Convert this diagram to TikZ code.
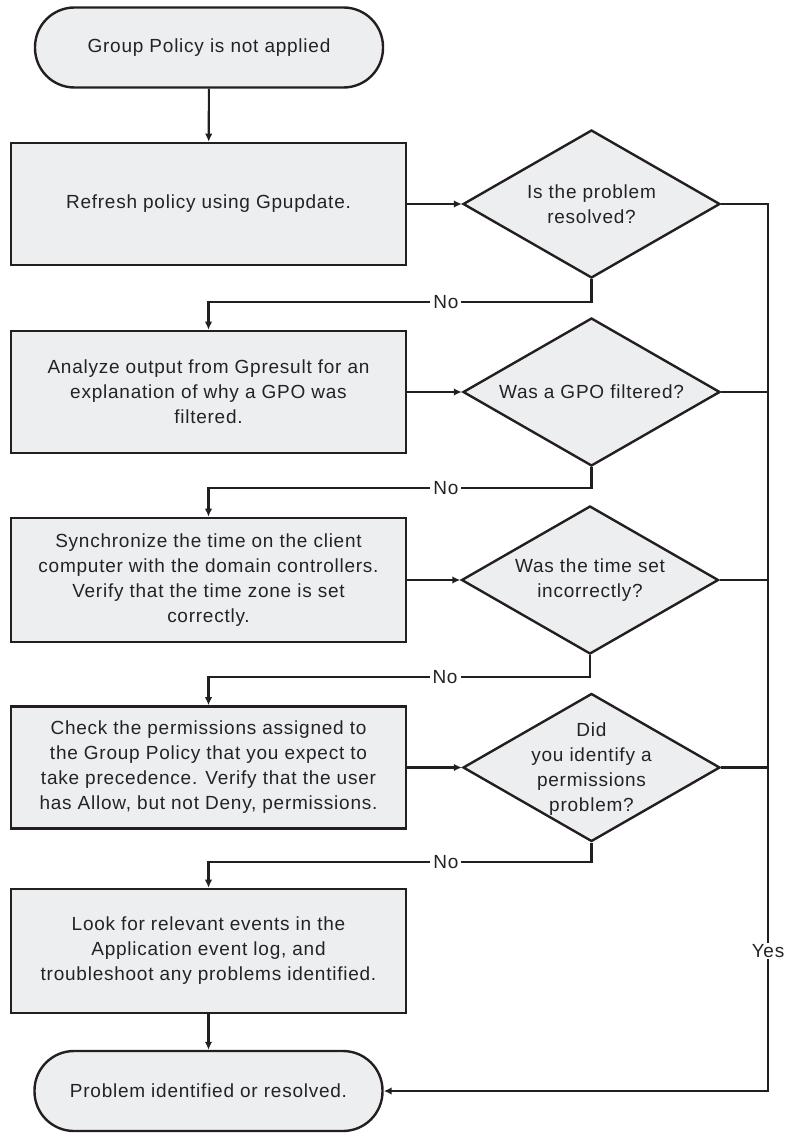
\documentclass[tikz,border=0pt]{standalone}
\usepackage{fontspec}
\setmainfont{Liberation Sans}[LetterSpace=4]
\usetikzlibrary{shapes.geometric,arrows.meta}
\definecolor{boxfill}{RGB}{237,238,240}
\definecolor{ink}{RGB}{35,31,32}
\definecolor{txt}{RGB}{35,35,35}

\begin{document}
\begin{tikzpicture}[x=1pt,y=-1pt,
  every node/.style={font=\fontsize{19}{25}\selectfont, text=txt},
  term/.style={draw=ink, line width=2.4pt, fill=boxfill, rounded corners=39.5pt,
    minimum width=348pt, minimum height=80pt, inner sep=0pt},
  stepbox/.style={draw=ink, line width=2.6pt, fill=boxfill, minimum width=395pt,
    minimum height=122pt, align=center, inner sep=0pt},
  decision/.style={draw=ink, line width=2.4pt, fill=boxfill, diamond,
    minimum width=257pt, minimum height=148pt, inner sep=0pt},
  qtext/.style={align=center, inner sep=0pt},
  conn/.style={draw=ink, line width=2.1pt},
  arr/.style={conn, -{Latex[length=8pt,width=7.5pt]}},
  lbl/.style={fill=white, inner xsep=3pt, inner ysep=1pt}
]
\useasboundingbox (0,0) rectangle (785,1134);

% terminals
\node[term] (start) at (209,47.5) {Group Policy is not applied};
\node[term] (end) at (208.5,1091) {Problem identified or resolved.};

% action boxes
\node[stepbox] (b1) at (208.5,204) {Refresh policy using Gpupdate.};
\node[stepbox] (b2) at (208.5,392) {Analyze output from Gpresult for an\\explanation of why a GPO was\\filtered.};
\node[stepbox, minimum height=124pt] (b3) at (208.5,580) {Synchronize the time on the client\\computer with the domain controllers.\\Verify that the time zone is set\\correctly.};
\node[stepbox] (b4) at (208.5,767.5) {Check the permissions assigned to\\the Group Policy that you expect to\\take precedence. Verify that the user\\has Allow, but not Deny, permissions.};
\node[stepbox, minimum height=124pt] (b5) at (208.5,951) {Look for relevant events in the\\Application event log, and\\troubleshoot any problems identified.};

% decisions
\node[decision] (d1) at (591.5,204) {};
\node[qtext] (d1t) at (d1) {Is the problem\\resolved?};
\node[decision] (d2) at (591.5,392) {};
\node[qtext] (d2t) at (d2) {Was a GPO filtered?};
\node[decision] (d3) at (590,580) {};
\node[qtext] (d3t) at (d3) {Was the time set\\incorrectly?};
\node[decision] (d4) at (591.5,767.5) {};
\node[qtext] (d4t) at ([yshift=-2pt]d4) {Did\\you identify a\\permissions\\problem?};

% bends of the "No" paths and the "Yes" rail
\coordinate (n1) at (208.5,302);
\coordinate (n2) at (208.5,488);
\coordinate (n3) at (208.5,677);
\coordinate (n4) at (208.5,862);
\coordinate (rail) at (768,1091);

% main flow
\draw[arr] (start) -- (b1);
\draw[arr] (b1.east) -- (d1.west);
\draw[arr] (b2.east) -- (d2.west);
\draw[arr] (b3.east) -- (d3.west);
\draw[arr] (b4.east) -- (d4.west);
\draw[arr] (b5) -- (end);

% "No" branches
\draw[arr] (d1.south) |- node[lbl,pos=0.69] (no1) {No} (n1) -- (b2.north);
\draw[arr] (d2.south) |- node[lbl,pos=0.69] (no2) {No} (n2) -- (b3.north);
\draw[arr] (d3.south) |- node[lbl,pos=0.69] (no3) {No} (n3) -- (b4.north);
\draw[arr] (d4.south) |- node[lbl,pos=0.69] (no4) {No} (n4) -- (b5.north);

% "Yes" rail
\draw[arr] (d1.east) -| node[lbl,pos=0.921] (yes) {Yes} (rail) -- (end.east);
\draw[conn] (d2.east) -- (d2.east -| rail);
\draw[conn] (d3.east) -- (d3.east -| rail);
\draw[conn] (d4.east) -- (d4.east -| rail);
\end{tikzpicture}
\end{document}
